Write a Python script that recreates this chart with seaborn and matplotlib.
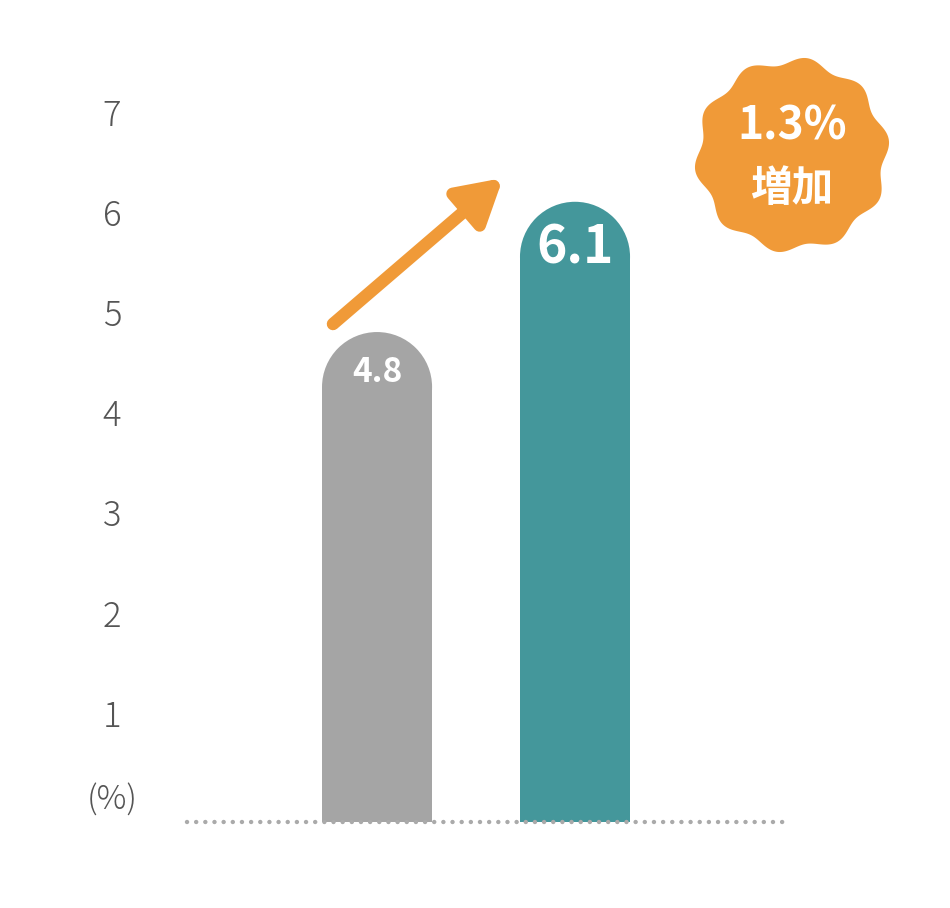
import numpy as np
import pandas as pd
import matplotlib.pyplot as plt
import seaborn as sns
from matplotlib.patches import Rectangle, Ellipse, Polygon, FancyArrowPatch

# data
periods = ['before', 'after']
rates = [4.8, 6.1]
bar_colors = ['#a5a5a5', '#44979b']
y_ticks = [1, 2, 3, 4, 5, 6, 7]
unit_label = '(%)'
badge_lines = ['1.3%', '増加']

ORANGE = '#f09a38'

sns.set_theme(style='white')
plt.rcParams['font.family'] = ['Noto Sans CJK JP', 'DejaVu Sans']

fig = plt.figure(figsize=(9.5, 9.08), dpi=100)
W, H = 950, 908

# axes: dotted line spans 187..790 px, baseline at 822 px, top at 40 px
ax = fig.add_axes([187 / W, (H - 822) / H, 603 / W, 782 / H])
px_per_unit = 100.2
y_floor = -9 / px_per_unit

df = pd.DataFrame({'period': periods, 'rate': rates})
sns.barplot(data=df, x='period', y='rate', hue='period', palette=bar_colors,
            width=0.556, legend=False, ax=ax)
ax.set_ylim(y_floor, y_floor + 782 / px_per_unit)
ax.set_xlim(-0.96, 2.086)

# rounded caps built from the bar geometry, bars run down to the dotted floor
r_y = 55 / px_per_unit
for patch, c in zip(list(ax.patches), bar_colors):
    x0, w, h = patch.get_x(), patch.get_width(), patch.get_height()
    patch.set_visible(False)
    ax.add_patch(Rectangle((x0, y_floor), w, h - r_y - y_floor, color=c, lw=0))
    ax.add_patch(Ellipse((x0 + w / 2, h - r_y), w, 2 * r_y, color=c, lw=0))

# value labels inside the caps
ax.text(0, rates[0] - 0.4, f'{rates[0]}', ha='center', va='center',
        color='white', fontsize=24, fontweight='bold')
ax.text(1, rates[1] - 0.46, f'{rates[1]}', ha='center', va='center',
        color='white', fontsize=37, fontweight='bold')

# dotted baseline
ax.axhline(y_floor, color='#aaaaaa', lw=3.2, linestyle=(0, (0.01, 2.05)),
           dash_capstyle='round', clip_on=False)

ax.set_yticks(y_ticks)
ax.set_yticklabels([str(t) for t in y_ticks], ha='center')
ax.tick_params(axis='y', length=0, pad=54, labelsize=25, labelcolor='#555555')
for lab in ax.get_yticklabels():
    lab.set_fontweight('light')
ax.set_xticks([])
ax.set_xlabel('')
ax.set_ylabel('')
sns.despine(ax=ax, left=True, bottom=True)
ax.text(-0.96 - 75 / 198, 13 / px_per_unit, unit_label, ha='center', va='center',
        fontsize=24, color='#555555', fontweight='light')

# overlay in pixel coordinates for the decorations
ov = fig.add_axes([0, 0, 1, 1], zorder=5)
ov.set_xlim(0, W)
ov.set_ylim(H, 0)
ov.axis('off')
ov.patch.set_alpha(0)

arrow = FancyArrowPatch((333, 324), (503, 178),
                        arrowstyle='-|>,head_length=1.3,head_width=0.75',
                        mutation_scale=20, lw=9, color=ORANGE,
                        capstyle='round', joinstyle='round',
                        shrinkA=0, shrinkB=0)
ov.add_patch(arrow)

theta = np.linspace(0, 2 * np.pi, 400)
rad = 94 + 4 * np.cos(10 * theta + np.pi / 2)
ov.add_patch(Polygon(np.column_stack([792 + rad * np.cos(theta),
                                      155 + rad * np.sin(theta)]),
                     closed=True, color=ORANGE, lw=0))
ov.text(792, 127, badge_lines[0], ha='center', va='center', color='white',
        fontsize=32, fontweight='bold')
ov.text(792, 189, badge_lines[1], ha='center', va='center', color='white',
        fontsize=30, fontweight='bold')

fig.savefig('out.png', dpi=100, facecolor='white')
